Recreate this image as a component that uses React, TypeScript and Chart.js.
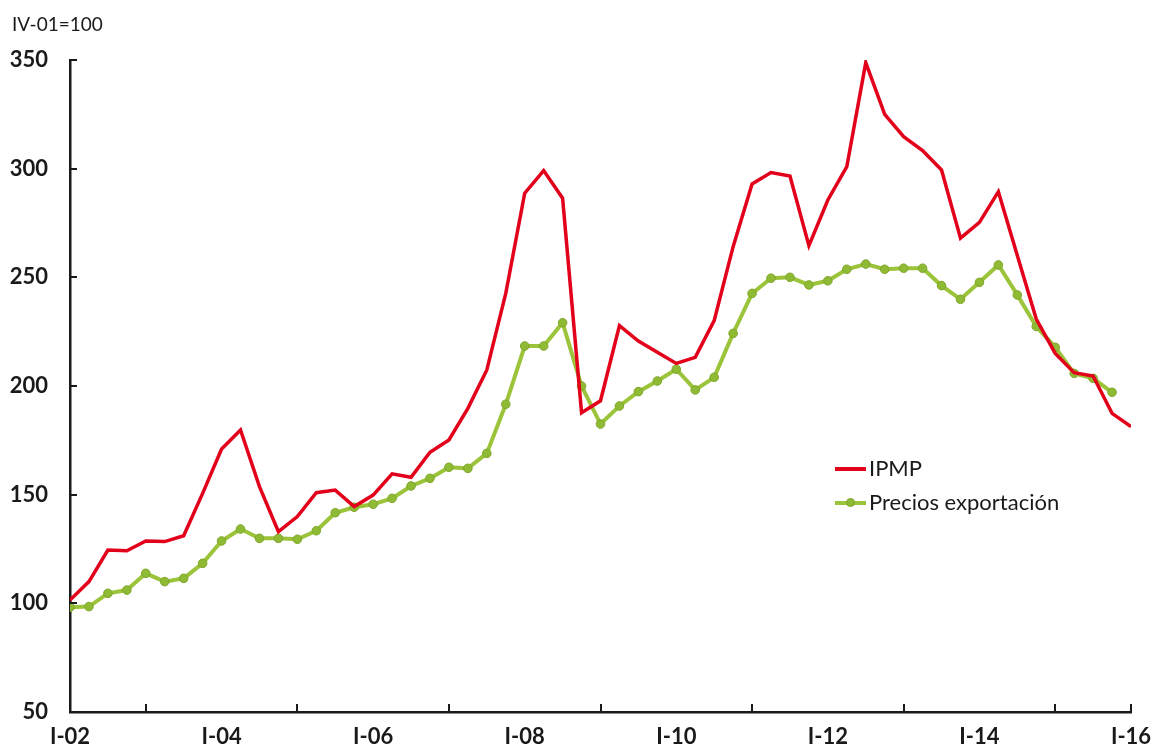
import React, { useEffect, useRef } from "react";
import { Chart, registerables } from "chart.js";

Chart.register(...registerables);

const yearLabels = ["I-02", "I-04", "I-06", "I-08", "I-10", "I-12", "I-14", "I-16"];
const baseLabel = "IV-01=100";
const seriesNames = ["IPMP", "Precios exportación"];

// quarterly, I-02 .. I-16
const ipmp = [
  101.5, 110, 124.5, 124.2, 128.7, 128.4, 131.1, 150.6, 171, 179.8,
  153.7, 133, 139.9, 150.9, 152.1, 144.5, 149.8, 159.6, 158, 169.5,
  175.2, 189.7, 207.4, 242.6, 288.7, 299.1, 286.4, 187.7, 193.2, 227.8,
  220.7, 215.5, 210.4, 213.2, 230.1, 264.1, 293, 298.2, 296.6, 264.6,
  285.6, 300.9, 348.8, 325, 314.7, 308.3, 299.4, 268, 275.3, 289.4,
  260, 230.8, 215, 206.1, 204.6, 187.4, 181.3,
];

// quarterly, I-02 .. IV-15
const exportPrices = [
  98.2, 98.5, 104.6, 106.1, 113.8, 110, 111.5, 118.4, 128.7, 134.2,
  129.9, 129.9, 129.5, 133.4, 141.7, 144.2, 145.6, 148.3, 154, 157.5,
  162.6, 162.1, 169, 191.6, 218.4, 218.4, 229.1, 200, 182.5, 190.8,
  197.4, 202.3, 207.7, 198.2, 204, 224.2, 242.6, 249.6, 250, 246.5,
  248.4, 253.7, 256.1, 253.7, 254.2, 254.2, 246.2, 239.9, 247.7, 255.7,
  241.9, 227.4, 217.8, 205.8, 203.5, 197.1,
];

const RED = "#e2001a";
const GREEN = "#9cc43a";
const GREEN_DARK = "#7fa62c";
const INK = "#1a1a1a";
const FONT = "Lato, 'Open Sans', sans-serif";

const inwardTicks = {
  id: "inwardTicks",
  afterDraw(chart: any) {
    const { ctx, scales } = chart;
    const x = scales.x;
    const y = scales.y;
    ctx.save();
    ctx.strokeStyle = INK;
    ctx.lineWidth = 2;
    const bottom = y.getPixelForValue(50);
    const n = ipmp.length - 1;
    for (let i = 4; i <= n; i += 8) {
      const px = Math.round(x.getPixelForValue(i));
      ctx.beginPath();
      ctx.moveTo(px, bottom);
      ctx.lineTo(px, bottom - 8);
      ctx.stroke();
    }
    const pe = Math.round(x.getPixelForValue(n));
    ctx.beginPath();
    ctx.moveTo(pe, bottom);
    ctx.lineTo(pe, bottom - 8);
    ctx.stroke();
    const left = x.getPixelForValue(0);
    for (let v = 100; v <= 350; v += 50) {
      const py = Math.round(y.getPixelForValue(v));
      ctx.beginPath();
      ctx.moveTo(left, py);
      ctx.lineTo(left + 7, py);
      ctx.stroke();
    }
    ctx.restore();
  },
};

export default function App() {
  const ref = useRef<HTMLCanvasElement | null>(null);

  useEffect(() => {
    document.body.style.margin = "0";
    const canvas = ref.current;
    if (!canvas) return;
    const chart = new Chart(canvas, {
      type: "line",
      data: {
        datasets: [
          {
            label: seriesNames[0],
            data: ipmp.map((v, i) => ({ x: i, y: v })),
            borderColor: RED,
            backgroundColor: RED,
            borderWidth: 3.5,
            pointRadius: 0,
            tension: 0,
          },
          {
            label: seriesNames[1],
            data: exportPrices.map((v, i) => ({ x: i, y: v })),
            borderColor: GREEN,
            backgroundColor: "#8fba33",
            borderWidth: 4,
            pointRadius: 4.3,
            pointBorderColor: GREEN_DARK,
            pointBorderWidth: 1,
            pointBackgroundColor: "#8fba33",
            tension: 0,
          },
        ],
      },
      plugins: [inwardTicks],
      options: {
        animation: false,
        responsive: false,
        maintainAspectRatio: false,
        layout: { padding: { top: 60, right: 23, left: 0, bottom: 0 } },
        plugins: {
          legend: { display: false },
          tooltip: { enabled: false },
        },
        scales: {
          x: {
            type: "linear",
            min: 0,
            max: 56,
            afterFit: (s: any) => {
              s.height = 35;
              s.paddingLeft = 0;
              s.paddingRight = 0;
            },
            afterBuildTicks: (s: any) => {
              s.ticks = yearLabels.map((_, k) => ({ value: k * 8 }));
            },
            ticks: {
              autoSkip: false,
              maxRotation: 0,
              padding: 12,
              color: INK,
              font: { family: FONT, size: 22, weight: "bold" },
              callback: (v: any) => yearLabels[Math.round(Number(v) / 8)] ?? "",
            },
            grid: { display: false, drawTicks: false, tickLength: 0 },
            border: { display: true, color: INK, width: 2.5 },
          },
          y: {
            min: 50,
            max: 350,
            afterFit: (s: any) => {
              s.width = 70;
              s.paddingTop = 0;
              s.paddingBottom = 0;
            },
            ticks: {
              stepSize: 50,
              padding: 22,
              color: INK,
              font: { family: FONT, size: 22, weight: "bold" },
            },
            grid: { display: false, drawTicks: false, tickLength: 0 },
            border: { display: true, color: INK, width: 2.5 },
          },
        },
      },
    });
    return () => chart.destroy();
  }, []);

  return (
    <div style={{ position: "relative", width: 1154, height: 747, background: "#fff" }}>
      <canvas ref={ref} width={1154} height={747} style={{ width: 1154, height: 747, display: "block" }} />
      <div
        style={{
          position: "absolute",
          left: 12,
          top: 12,
          fontFamily: FONT,
          fontSize: 19,
          color: INK,
          whiteSpace: "nowrap",
        }}
      >
        {baseLabel}
      </div>
      <div style={{ position: "absolute", left: 835, top: 451, fontFamily: FONT, fontSize: 22, color: INK }}>
        <div style={{ display: "flex", alignItems: "center", height: 32 }}>
          <div style={{ width: 31, height: 4, background: RED, marginRight: 3, marginTop: 4 }} />
          <span>{seriesNames[0]}</span>
        </div>
        <div style={{ display: "flex", alignItems: "center", height: 36 }}>
          <div style={{ position: "relative", width: 31, height: 4, background: GREEN, marginRight: 3, marginTop: 4 }}>
            <div
              style={{
                position: "absolute",
                left: 11,
                top: -3,
                width: 9,
                height: 9,
                borderRadius: "50%",
                background: "#8fba33",
                boxSizing: "border-box",
                border: `1px solid ${GREEN_DARK}`,
              }}
            />
          </div>
          <span>{seriesNames[1]}</span>
        </div>
      </div>
    </div>
  );
}
